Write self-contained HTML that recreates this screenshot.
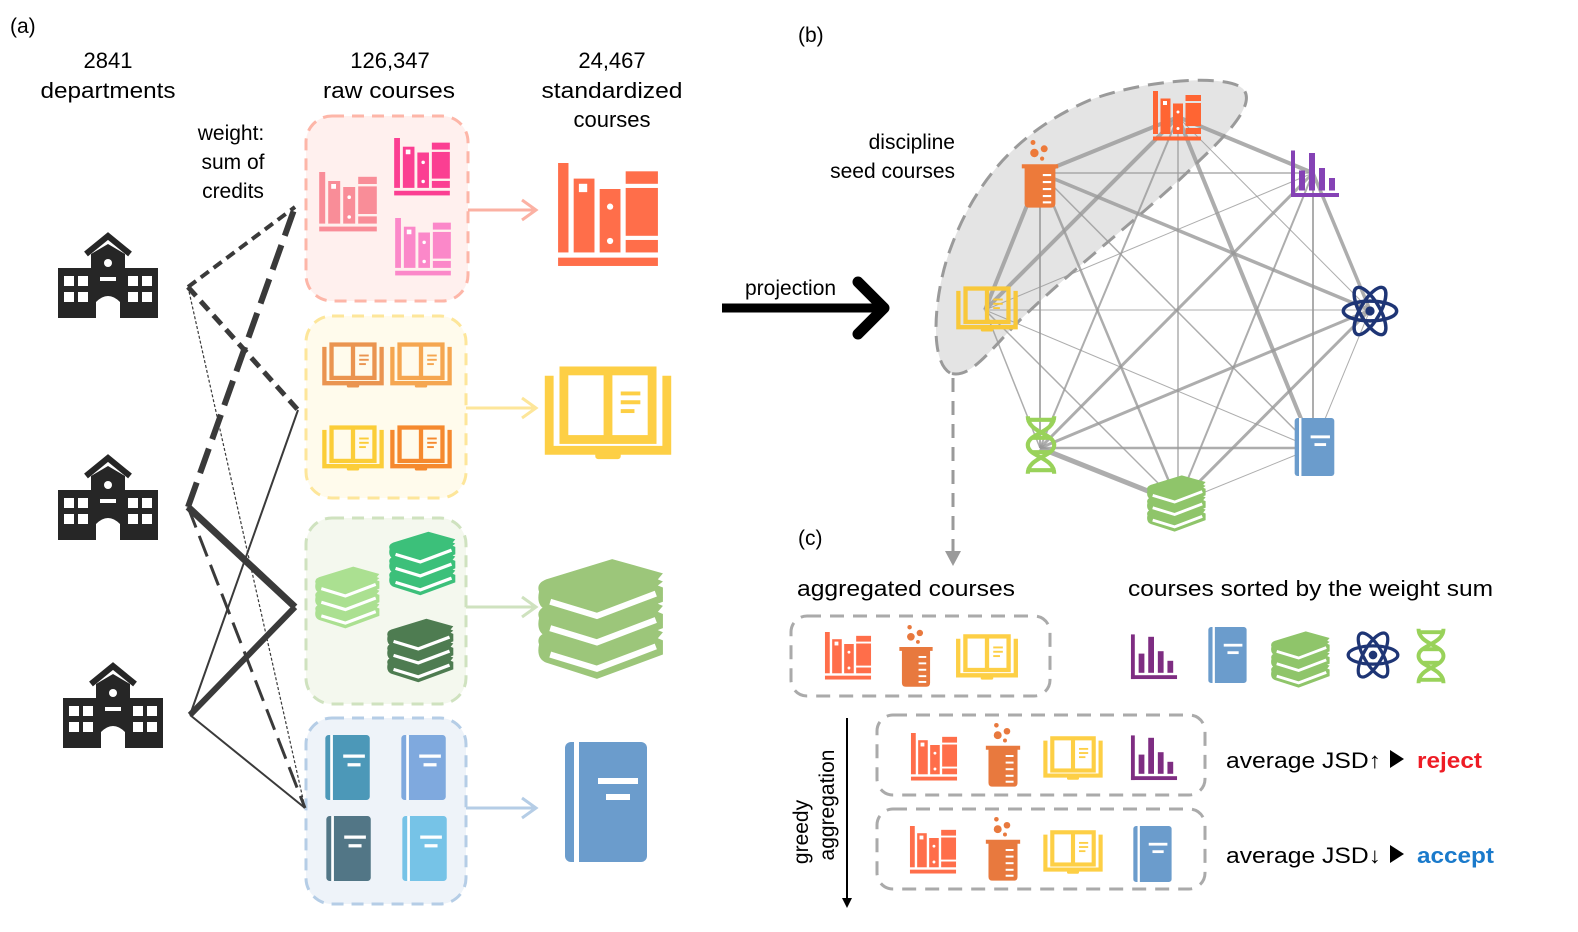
<!DOCTYPE html>
<html><head><meta charset="utf-8"><style>
html,body{margin:0;padding:0;background:#fff;}
svg{display:block;font-family:"Liberation Sans",sans-serif;}
</style></head><body>
<svg width="1578" height="932" viewBox="0 0 1578 932" xmlns="http://www.w3.org/2000/svg">
<defs>
<symbol id="shelf" viewBox="0 0 100 100">
 <g fill="currentColor">
 <rect x="2" y="0" width="10" height="86"/>
 <rect x="17" y="15" width="20" height="71"/>
 <rect x="42" y="25" width="20" height="61"/>
 <rect x="67" y="8" width="31" height="12"/><rect x="67" y="24" width="31" height="46"/><rect x="67" y="74" width="31" height="12"/>
 <rect x="2" y="91" width="96" height="8"/>
 </g>
 <rect x="22" y="20" width="8" height="8" fill="#fff"/><circle cx="52" cy="42" r="3" fill="#fff"/><circle cx="52" cy="75" r="3" fill="#fff"/>
</symbol>
<symbol id="obook" viewBox="0 0 130 100">
 <g fill="none" stroke="currentColor" stroke-width="9">
 <path d="M5 10 V86 H125 V10"/><rect x="20" y="5" width="90" height="70"/><line x1="65" y1="5" x2="65" y2="75"/>
 </g>
 <g stroke="currentColor" stroke-width="4"><line x1="78" y1="28" x2="98" y2="28"/><line x1="78" y1="37" x2="98" y2="37"/><line x1="78" y1="46" x2="92" y2="46"/></g>
 <rect x="52" y="88" width="26" height="7" rx="3" fill="currentColor"/>
</symbol>
<symbol id="books" viewBox="0 0 130 120">
 <g fill="currentColor">
 <path d="M3 86 Q0 78 10 74 L75 52 L125 66 L120 72 L125 74 L120 80 L125 82 L125 96 L60 120 L10 104 Q0 100 3 86 Z"/>
 <path d="M3 60 Q0 52 10 48 L75 26 L125 40 L120 46 L125 48 L120 54 L125 56 L125 70 L60 94 L10 78 Q0 74 3 60 Z"/>
 <path d="M3 34 Q0 26 10 22 L75 2 L125 16 L120 22 L125 24 L120 28 L125 30 L125 44 L60 68 L10 52 Q0 48 3 34 Z"/>
 </g>
 <g fill="none" stroke="#fff" stroke-width="6"><path d="M14 44 L60 58 L118 36"/><path d="M14 70 L60 84 L118 62"/><path d="M14 96 L60 110 L118 88"/></g>
</symbol>
<symbol id="note" viewBox="0 0 90 120">
 <rect x="5" y="0" width="82" height="120" rx="6" fill="currentColor"/>
 <rect x="14" y="0" width="5" height="120" fill="#fff"/>
 <rect x="38" y="36" width="40" height="6" fill="#fff"/><rect x="46" y="52" width="24" height="6" fill="#fff"/>
</symbol>
<symbol id="beaker" viewBox="0 0 60 100">
 <g fill="currentColor"><circle cx="22" cy="20" r="6"/><circle cx="36" cy="14" r="5"/><circle cx="20" cy="5" r="3.5"/><circle cx="33" cy="28" r="3"/>
 <path d="M4 36 H56 V42 H52 V92 Q52 98 46 98 H14 Q8 98 8 92 V42 H4 Z"/></g>
 <g fill="#fff"><rect x="34" y="50" width="12" height="3"/><rect x="34" y="60" width="12" height="3"/><rect x="34" y="70" width="12" height="3"/><rect x="34" y="80" width="12" height="3"/><rect x="34" y="89" width="12" height="3"/></g>
</symbol>
<symbol id="chart" viewBox="0 0 100 100">
 <g fill="currentColor"><rect x="2" y="5" width="8" height="93"/><rect x="2" y="90" width="96" height="8"/>
 <rect x="18" y="45" width="12" height="40"/><rect x="38" y="10" width="12" height="75"/><rect x="58" y="40" width="12" height="45"/><rect x="78" y="60" width="12" height="25"/></g>
</symbol>
<symbol id="atom" viewBox="0 0 100 100">
 <g fill="none" stroke="currentColor" stroke-width="6">
 <ellipse cx="50" cy="50" rx="46" ry="17"/>
 <ellipse cx="50" cy="50" rx="46" ry="17" transform="rotate(60 50 50)"/>
 <ellipse cx="50" cy="50" rx="46" ry="17" transform="rotate(-60 50 50)"/></g>
 <circle cx="50" cy="50" r="8" fill="currentColor"/>
</symbol>
<symbol id="dna" viewBox="0 0 60 100">
 <g fill="none" stroke="currentColor" stroke-width="7">
 <path d="M8 2 C8 30 52 30 52 50 C52 70 8 70 8 98"/><path d="M52 2 C52 30 8 30 8 50 C8 70 52 70 52 98"/>
 <line x1="6" y1="8" x2="54" y2="8"/><line x1="6" y1="92" x2="54" y2="92"/><line x1="16" y1="38" x2="44" y2="38"/><line x1="16" y1="62" x2="44" y2="62"/></g>
</symbol>
<symbol id="bldg" viewBox="0 0 100 86">
 <path d="M28 22 L50 4 L72 22" fill="none" stroke="currentColor" stroke-width="6"/>
 <path d="M0 36 H33 V22 L50 12 L67 22 V36 H100 V86 H62 V70 Q50 58 38 70 V86 H0 Z" fill="currentColor"/>
 <g fill="#fff"><circle cx="50" cy="31" r="4"/><rect x="42" y="45" width="16" height="4"/>
 <rect x="6" y="44" width="10" height="10"/><rect x="20" y="44" width="10" height="10"/><rect x="6" y="60" width="10" height="10"/><rect x="20" y="60" width="10" height="10"/>
 <rect x="70" y="44" width="10" height="10"/><rect x="84" y="44" width="10" height="10"/><rect x="70" y="60" width="10" height="10"/><rect x="84" y="60" width="10" height="10"/></g>
</symbol>
</defs>

<text x="10" y="33" font-size="21">(a)</text>
<g font-size="22" text-anchor="middle">
<text x="108" y="68">2841</text><text x="108" y="98" textLength="135" lengthAdjust="spacingAndGlyphs">departments</text>
<text x="390" y="68">126,347</text><text x="389" y="98" textLength="132" lengthAdjust="spacingAndGlyphs">raw courses</text>
<text x="612" y="68">24,467</text><text x="612" y="98" textLength="141" lengthAdjust="spacingAndGlyphs">standardized</text><text x="612" y="127">courses</text>
</g>
<g font-size="21" text-anchor="middle"><text x="231" y="140">weight:</text><text x="233" y="169">sum of</text><text x="233" y="198">credits</text></g>

<use href="#bldg" x="58" y="232" width="100" height="86" color="#262626"/>
<use href="#bldg" x="58" y="454" width="100" height="86" color="#262626"/>
<use href="#bldg" x="63" y="662" width="100" height="86" color="#262626"/>

<g stroke-width="3" stroke-dasharray="12 8">
<rect x="306" y="116" width="162" height="185" rx="26" fill="#fff0ee" stroke="#fdb6a8"/>
<rect x="306" y="316" width="160" height="182" rx="26" fill="#fffbec" stroke="#fde69a"/>
<rect x="306" y="518" width="160" height="186" rx="26" fill="#f4f8ee" stroke="#cfe2bf"/>
<rect x="306" y="718" width="160" height="186" rx="26" fill="#eef3f9" stroke="#b5cde6"/>
</g>
<use href="#shelf" x="318" y="170" width="60" height="64" color="#f98d98"/>
<use href="#shelf" x="393" y="137" width="58" height="60" color="#fb3f92"/>
<use href="#shelf" x="394" y="217" width="58" height="60" color="#fb88c9"/>
<use href="#obook" x="322" y="342" width="62" height="48" color="#ea9450"/>
<use href="#obook" x="390" y="342" width="62" height="48" color="#f5a650"/>
<use href="#obook" x="322" y="425" width="62" height="48" color="#fbcd38"/>
<use href="#obook" x="390" y="425" width="62" height="48" color="#f5892e"/>
<use href="#books" x="314" y="564" width="68" height="66" color="#abe091"/>
<use href="#books" x="388" y="530" width="70" height="66" color="#3cc07a"/>
<use href="#books" x="386" y="617" width="70" height="66" color="#4e7c51"/>
<use href="#note" x="322" y="735" width="50" height="65" color="#4c98b8"/>
<use href="#note" x="398" y="735" width="50" height="65" color="#7fa9de"/>
<use href="#note" x="323" y="816" width="50" height="65" color="#527686"/>
<use href="#note" x="399" y="816" width="50" height="65" color="#76c3e7"/>

<g stroke="#3a3a3a" fill="none">
<line x1="188" y1="287" x2="295" y2="207" stroke-width="4" stroke-dasharray="10 6"/>
<line x1="188" y1="287" x2="298" y2="410" stroke-width="5" stroke-dasharray="12 7"/>
<line x1="188" y1="287" x2="305" y2="808" stroke-width="1.2" stroke-dasharray="3 2"/>
<line x1="188" y1="507" x2="295" y2="207" stroke-width="6" stroke-dasharray="26 10"/>
<line x1="188" y1="507" x2="295" y2="607" stroke-width="7"/>
<line x1="188" y1="507" x2="305" y2="808" stroke-width="3" stroke-dasharray="22 9"/>
<line x1="190" y1="715" x2="298" y2="410" stroke-width="2"/>
<line x1="190" y1="715" x2="295" y2="607" stroke-width="6"/>
<line x1="190" y1="715" x2="305" y2="808" stroke-width="2"/>
</g>

<g stroke-width="3" fill="none">
<path d="M468 210 H535 M522 200 L536 210 L522 220" stroke="#fbb1a3"/>
<path d="M466 408 H535 M522 398 L536 408 L522 418" stroke="#fde69a"/>
<path d="M466 607 H535 M522 597 L536 607 L522 617" stroke="#cfe2bf"/>
<path d="M466 808 H535 M522 798 L536 808 L522 818" stroke="#b5cde6"/>
</g>
<use href="#shelf" x="555" y="163" width="106" height="104" color="#ff6e4a"/>
<use href="#obook" x="540" y="366" width="136" height="98" color="#fdcf45"/>
<use href="#books" x="536" y="556" width="132" height="124" color="#9cc67a"/>
<use href="#note" x="560" y="740" width="90" height="124" color="#6b9ccc"/>

<text x="745" y="295" font-size="21">projection</text>
<path d="M722 308 H880" stroke="#000" stroke-width="9"/>
<path d="M858 282 L884 308 L858 334" stroke="#000" stroke-width="11" fill="none" stroke-linecap="round" stroke-linejoin="round"/>

<text x="798" y="42" font-size="21">(b)</text>
<g font-size="21" text-anchor="end"><text x="955" y="149">discipline</text><text x="955" y="178">seed courses</text></g>
<path d="M950 373 C928 360 935 290 950 250 C975 180 1020 130 1090 100 C1150 78 1232 74 1244 90 C1254 104 1232 130 1200 160 C1150 210 1080 262 1020 320 C990 350 970 380 950 373 Z" fill="#e4e4e4" stroke="#9a9a9a" stroke-width="3" stroke-dasharray="16 9"/>
<line x1="953" y1="378" x2="953" y2="552" stroke="#9a9a9a" stroke-width="3" stroke-dasharray="14 9"/>
<path d="M945 551 H961 L953 566 Z" fill="#9a9a9a"/>

<g stroke="#999" stroke-opacity="0.8" fill="none">
<line x1="1178" y1="117" x2="1040" y2="173" stroke-width="4"/>
<line x1="1178" y1="117" x2="1313" y2="173" stroke-width="4"/>
<line x1="1178" y1="117" x2="985" y2="310" stroke-width="4"/>
<line x1="1178" y1="117" x2="1370" y2="310" stroke-width="1"/>
<line x1="1178" y1="117" x2="1040" y2="448" stroke-width="2"/>
<line x1="1178" y1="117" x2="1313" y2="448" stroke-width="4"/>
<line x1="1178" y1="117" x2="1178" y2="503" stroke-width="1.5"/>
<line x1="1040" y1="173" x2="1313" y2="173" stroke-width="1.5"/>
<line x1="1040" y1="173" x2="985" y2="310" stroke-width="4"/>
<line x1="1040" y1="173" x2="1370" y2="310" stroke-width="3.5"/>
<line x1="1040" y1="173" x2="1040" y2="448" stroke-width="2"/>
<line x1="1040" y1="173" x2="1313" y2="448" stroke-width="1.5"/>
<line x1="1040" y1="173" x2="1178" y2="503" stroke-width="2.5"/>
<line x1="1313" y1="173" x2="985" y2="310" stroke-width="1"/>
<line x1="1313" y1="173" x2="1370" y2="310" stroke-width="3.5"/>
<line x1="1313" y1="173" x2="1040" y2="448" stroke-width="3"/>
<line x1="1313" y1="173" x2="1313" y2="448" stroke-width="2"/>
<line x1="1313" y1="173" x2="1178" y2="503" stroke-width="2"/>
<line x1="985" y1="310" x2="1370" y2="310" stroke-width="1"/>
<line x1="985" y1="310" x2="1040" y2="448" stroke-width="1.5"/>
<line x1="985" y1="310" x2="1313" y2="448" stroke-width="1"/>
<line x1="985" y1="310" x2="1178" y2="503" stroke-width="1.5"/>
<line x1="1370" y1="310" x2="1040" y2="448" stroke-width="3"/>
<line x1="1370" y1="310" x2="1313" y2="448" stroke-width="1"/>
<line x1="1370" y1="310" x2="1178" y2="503" stroke-width="3"/>
<line x1="1040" y1="448" x2="1313" y2="448" stroke-width="2.5"/>
<line x1="1040" y1="448" x2="1178" y2="503" stroke-width="5"/>
<line x1="1313" y1="448" x2="1178" y2="503" stroke-width="1"/>
</g>
<use href="#shelf" x="1152" y="91" width="50" height="50" color="#ff6533"/>
<use href="#beaker" x="1019" y="139" width="42" height="70" color="#ed7a3a"/>
<use href="#chart" x="1290" y="148" width="50" height="50" color="#8542b5"/>
<use href="#obook" x="956" y="286" width="62" height="48" color="#f8c83a"/>
<use href="#atom" x="1341" y="282" width="58" height="58" color="#1e3575"/>
<use href="#dna" x="1023" y="413" width="36" height="64" color="#99d25a"/>
<use href="#note" x="1292" y="418" width="44" height="58" color="#6b9ccc"/>
<use href="#books" x="1146" y="474" width="62" height="58" color="#8fc56a"/>

<text x="798" y="545" font-size="21">(c)</text>
<text x="797" y="596" font-size="22" textLength="218" lengthAdjust="spacingAndGlyphs">aggregated courses</text>
<text x="1128" y="596" font-size="22" textLength="365" lengthAdjust="spacingAndGlyphs">courses sorted by the weight sum</text>
<g fill="none" stroke="#aaa" stroke-width="3" stroke-dasharray="14 9">
<rect x="791" y="616" width="259" height="80" rx="16"/>
<rect x="877" y="715" width="328" height="80" rx="16"/>
<rect x="877" y="809" width="328" height="80" rx="16"/>
</g>
<use href="#shelf" x="824" y="632" width="48" height="48" color="#ff6e4a"/>
<use href="#beaker" x="896" y="624" width="40" height="64" color="#e8793e"/>
<use href="#obook" x="955" y="634" width="64" height="48" color="#fdcf45"/>
<use href="#chart" x="1130" y="632" width="48" height="48" color="#7e2d82"/>
<use href="#note" x="1206" y="627" width="42" height="56" color="#6b9ccc"/>
<use href="#books" x="1270" y="630" width="62" height="58" color="#8fc56a"/>
<use href="#atom" x="1346" y="627" width="54" height="56" color="#1e3575"/>
<use href="#dna" x="1414" y="625" width="34" height="62" color="#99d25a"/>

<use href="#shelf" x="909" y="733" width="50" height="48" color="#ff6e4a"/>
<use href="#beaker" x="982" y="722" width="42" height="66" color="#e8793e"/>
<use href="#obook" x="1040" y="736" width="66" height="46" color="#fdcf45"/>
<use href="#chart" x="1130" y="733" width="48" height="48" color="#7e2d82"/>
<use href="#shelf" x="908" y="826" width="50" height="48" color="#ff6e4a"/>
<use href="#beaker" x="982" y="816" width="42" height="66" color="#e8793e"/>
<use href="#obook" x="1040" y="830" width="66" height="46" color="#fdcf45"/>
<use href="#note" x="1130" y="826" width="44" height="56" color="#6b9ccc"/>

<g font-size="22">
<text x="1226" y="768" textLength="155" lengthAdjust="spacingAndGlyphs">average JSD↑</text>
<path d="M1390 750 L1404 759 L1390 768 Z" fill="#000"/>
<text x="1417" y="768" fill="#ee1c25" font-weight="bold" textLength="65" lengthAdjust="spacingAndGlyphs">reject</text>
<text x="1226" y="863" textLength="155" lengthAdjust="spacingAndGlyphs">average JSD↓</text>
<path d="M1390 845 L1404 854 L1390 863 Z" fill="#000"/>
<text x="1417" y="863" fill="#1a7acb" font-weight="bold" textLength="77" lengthAdjust="spacingAndGlyphs">accept</text>
</g>
<line x1="847" y1="718" x2="847" y2="900" stroke="#000" stroke-width="2"/>
<path d="M842 898 L847 908 L852 898 Z" fill="#000"/>
<g font-size="21" text-anchor="middle">
<text transform="translate(808,832) rotate(-90)">greedy</text>
<text transform="translate(834,805) rotate(-90)">aggregation</text>
</g>
</svg>
</body></html>
